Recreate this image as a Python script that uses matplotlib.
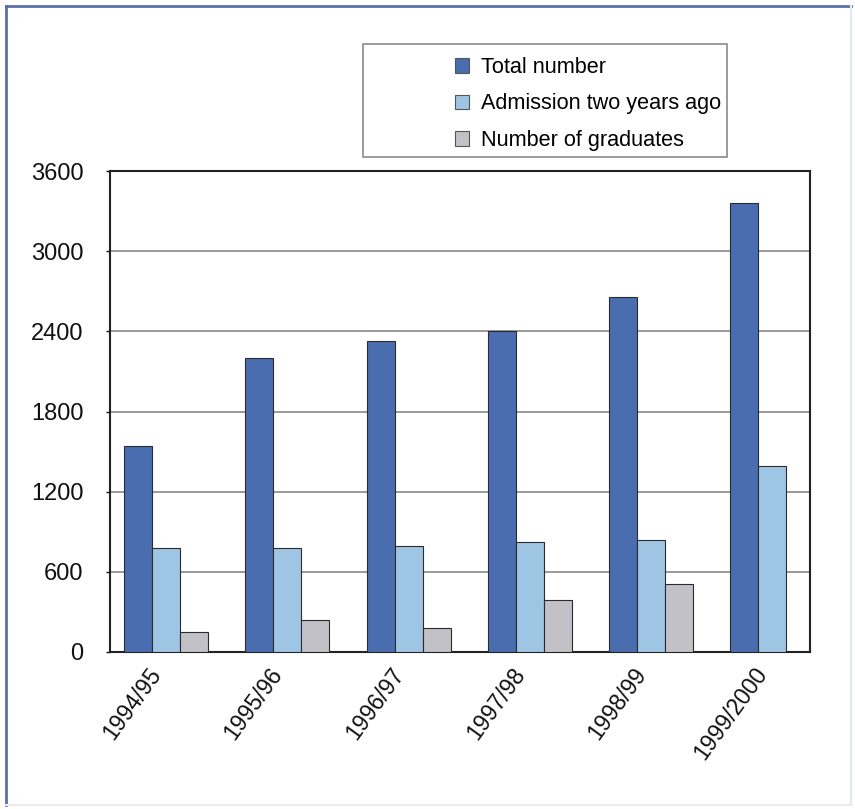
import matplotlib.pyplot as plt
import numpy as np
from matplotlib.patches import Patch, Rectangle

plt.rcParams['font.family'] = ['Liberation Sans', 'DejaVu Sans']

years = ["1994/95", "1995/96", "1996/97", "1997/98", "1998/99", "1999/2000"]
total_number = [1545, 2200, 2325, 2400, 2655, 3360]
admission_two_years_ago = [780, 780, 795, 825, 840, 1395]
graduates = [150, 240, 180, 390, 510, 0]

series_names = ["Total number", "Admission two years ago", "Number of graduates"]
colors = ["#4a6db0", "#9fc5e5", "#c1c1c7"]

W, H = 855, 809
fig = plt.figure(figsize=(W / 100, H / 100), dpi=100)
fig.patch.set_facecolor("white")

# outer frame: darker on left/top, pale on right/bottom
fig.add_artist(plt.Line2D([6 / W, 6 / W], [1 - 805 / H, 1 - 6 / H], color="#5b6fa8", lw=2))
fig.add_artist(plt.Line2D([6 / W, 851 / W], [1 - 6 / H, 1 - 6 / H], color="#5b6fa8", lw=2))
fig.add_artist(plt.Line2D([851 / W, 851 / W], [1 - 805 / H, 1 - 6 / H], color="#e3e8ef", lw=1.5))
fig.add_artist(plt.Line2D([6 / W, 851 / W], [1 - 805 / H, 1 - 805 / H], color="#f3e6ee", lw=1.5))

ax = fig.add_axes([110 / W, 1 - 652 / H, 700 / W, 481 / H])

x = np.arange(len(years))
w = 0.231
for j, (vals, c) in enumerate(zip([total_number, admission_two_years_ago, graduates], colors)):
    ax.bar(x + (j - 1) * w, vals, width=w, color=c, edgecolor="#2b2b2b", linewidth=0.8, zorder=3)

ax.set_xlim(-0.462, 5.31)
ax.set_ylim(0, 3600)
ax.set_yticks(np.arange(0, 3601, 600))
ax.yaxis.grid(True, color="#7f7f7f", linewidth=1.1, zorder=0)
ax.tick_params(axis="y", length=3, width=1, pad=16, labelsize=17, colors="#111111")
ax.tick_params(axis="x", length=0, pad=8)
ax.set_xticks(x)
ax.set_xticklabels(years, rotation=54, ha="right", va="top", fontsize=16.5, color="#111111")
for s in ax.spines.values():
    s.set_color("#222222")
    s.set_linewidth(1.5)

# legend box
fig.add_artist(Rectangle((363 / W, 1 - 157 / H), 364 / W, 113 / H, transform=fig.transFigure,
                         facecolor="white", edgecolor="#8a8a8a", linewidth=1.2))
handles = [Patch(facecolor=c, edgecolor="#555555", linewidth=0.8) for c in colors]
fig.legend(handles, series_names, loc="upper left", bbox_to_anchor=(444 / W, 1 - 46 / H),
           frameon=False, fontsize=15.6, handlelength=0.66, handleheight=0.66,
           handletextpad=0.55, labelspacing=0.72, borderpad=0)

fig.savefig("out.png", dpi=100)
